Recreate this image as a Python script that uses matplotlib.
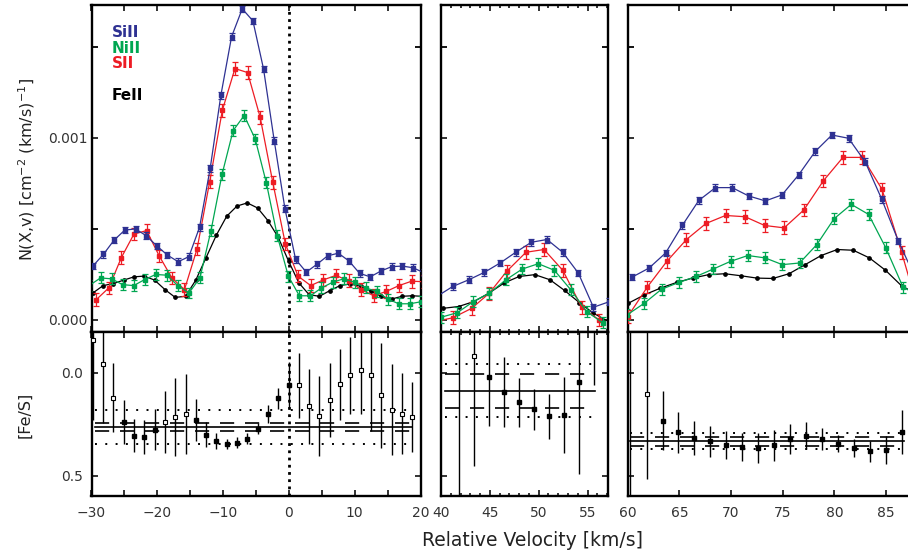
import numpy as np
import matplotlib
matplotlib.use("Agg")
import matplotlib.pyplot as plt
from matplotlib.ticker import MultipleLocator, FixedLocator, FuncFormatter, NullFormatter

plt.rcParams['font.family'] = ['DejaVu Sans']

# ---------------- colours ----------------
C_SI = '#2E3192'
C_NI = '#00A651'
C_S = '#ED1C24'
C_FE = '#000000'

# ---------------- top row data: N(X,v) in units of 1e-3 ----------------
# left window (-30 .. 20 km/s)
SI_V_L = [-29.80, -28.18, -26.56, -24.93, -23.31, -21.69, -20.07, -18.45, -16.82, -15.20,
          -13.58, -11.96, -10.34, -8.71, -7.09, -5.47, -3.85, -2.23, -0.60, 1.02,
          2.64, 4.26, 5.88, 7.51, 9.13, 10.75, 12.37, 13.99, 15.62, 17.24, 18.86, 20.48]
SI_L = [0.296, 0.361, 0.439, 0.494, 0.500, 0.463, 0.407, 0.356, 0.320, 0.348,
        0.509, 0.833, 1.234, 1.556, 1.709, 1.643, 1.378, 0.985, 0.611, 0.333,
        0.263, 0.306, 0.352, 0.367, 0.324, 0.256, 0.237, 0.269, 0.293, 0.296, 0.287, 0.26]

S_V_L = [-29.30, -27.38, -25.46, -23.55, -21.63, -19.71, -17.79, -15.87, -13.96, -12.04,
         -10.12, -8.20, -6.28, -4.37, -2.45, -0.53, 1.39, 3.31, 5.22, 7.14,
         9.06, 10.98, 12.90, 14.81, 16.73, 18.65, 20.57]
S_L = [0.111, 0.176, 0.343, 0.472, 0.491, 0.352, 0.231, 0.167, 0.390, 0.759,
       1.151, 1.381, 1.359, 1.114, 0.756, 0.417, 0.241, 0.189, 0.220, 0.245,
       0.215, 0.167, 0.133, 0.157, 0.189, 0.213, 0.210]

NI_V_L = [-30.31, -28.63, -26.95, -25.27, -23.59, -21.91, -20.24, -18.56, -16.88, -15.20,
          -13.52, -11.84, -10.16, -8.48, -6.80, -5.12, -3.44, -1.77, -0.09, 1.59,
          3.27, 4.95, 6.63, 8.31, 9.99, 11.67, 13.34, 15.02, 16.70, 18.38, 20.06]
NI_L = [0.190, 0.231, 0.226, 0.194, 0.189, 0.222, 0.250, 0.246, 0.189, 0.148,
        0.231, 0.491, 0.800, 1.040, 1.123, 0.994, 0.755, 0.463, 0.241, 0.133,
        0.133, 0.176, 0.207, 0.226, 0.207, 0.176, 0.157, 0.115, 0.089, 0.089, 0.100]

FE_V_L = [-29.80, -28.23, -26.67, -25.10, -23.54, -21.97, -20.41, -18.84, -17.28, -15.71,
          -14.15, -12.58, -11.01, -9.45, -7.88, -6.32, -4.75, -3.19, -1.62, -0.06,
          1.51, 3.07, 4.64, 6.21, 7.77, 9.34, 10.90, 12.47, 14.03, 15.60, 17.17, 18.73, 20.30]
FE_L = [0.148, 0.189, 0.200, 0.219, 0.237, 0.241, 0.219, 0.167, 0.124, 0.130,
        0.219, 0.343, 0.467, 0.570, 0.626, 0.643, 0.615, 0.546, 0.454, 0.324,
        0.204, 0.139, 0.130, 0.161, 0.189, 0.198, 0.185, 0.157, 0.130, 0.115, 0.130, 0.133, 0.130]

# middle window (40 .. 57 km/s)
SI_V_M = [39.60, 41.20, 42.85, 44.45, 46.05, 47.65, 49.25, 50.85, 52.45, 54.05, 55.60, 57.20]
SI_M = [0.130, 0.184, 0.221, 0.262, 0.313, 0.372, 0.427, 0.442, 0.372, 0.258, 0.070, 0.100]
S_V_M = [39.30, 41.20, 43.14, 44.94, 46.72, 48.70, 50.54, 52.46, 54.40, 56.20]
S_M = [-0.010, 0.012, 0.064, 0.147, 0.267, 0.372, 0.387, 0.273, 0.070, 0.000]
NI_V_M = [40.00, 41.67, 43.31, 44.94, 46.65, 48.32, 49.96, 51.60, 53.28, 54.91, 56.55]
NI_M = [0.015, 0.040, 0.101, 0.147, 0.221, 0.280, 0.309, 0.273, 0.166, 0.046, -0.015]
FE_V_M = [40.20, 41.80, 43.35, 44.90, 46.45, 48.00, 49.60, 51.15, 52.65, 54.15, 55.60, 57.20]
FE_M = [0.064, 0.074, 0.101, 0.147, 0.203, 0.239, 0.249, 0.221, 0.162, 0.096, 0.037, -0.010]

# right window (60 .. 88 km/s)
SI_V_R = [60.44, 62.05, 63.66, 65.27, 66.88, 68.49, 70.10, 71.71, 73.32, 74.93,
          76.54, 78.15, 79.76, 81.37, 82.98, 84.59, 86.20, 87.81]
SI_R = [0.236, 0.285, 0.368, 0.519, 0.657, 0.727, 0.727, 0.681, 0.654, 0.687,
        0.797, 0.926, 1.016, 0.998, 0.869, 0.663, 0.433, 0.235]
S_V_R = [59.99, 61.89, 63.78, 65.68, 67.57, 69.46, 71.36, 73.25, 75.14, 77.04,
         78.93, 80.83, 82.72, 84.61, 86.51, 88.40]
S_R = [0.018, 0.181, 0.322, 0.442, 0.530, 0.574, 0.567, 0.519, 0.506, 0.604,
       0.764, 0.893, 0.893, 0.718, 0.372, 0.000]
NI_V_R = [59.93, 61.60, 63.27, 64.94, 66.61, 68.28, 69.95, 71.62, 73.29, 74.96,
          76.63, 78.30, 79.97, 81.64, 83.31, 84.98, 86.65, 88.32]
NI_R = [0.028, 0.092, 0.169, 0.206, 0.239, 0.280, 0.322, 0.354, 0.341, 0.304,
        0.313, 0.414, 0.556, 0.635, 0.580, 0.396, 0.180, 0.130]
FE_V_R = [60.05, 61.61, 63.16, 64.72, 66.27, 67.83, 69.39, 70.94, 72.50, 74.05,
          75.61, 77.17, 78.72, 80.28, 81.83, 83.39, 84.95, 86.50, 88.06]
FE_R = [0.092, 0.138, 0.175, 0.206, 0.230, 0.249, 0.254, 0.243, 0.230, 0.228,
        0.254, 0.304, 0.354, 0.387, 0.383, 0.341, 0.273, 0.188, 0.140]

# 1-sigma errors (units of 1e-3)
SI_ERR = 0.018
S_ERR = 0.035
NI_ERR = 0.030
N_UNIT = 1e-3

# ---------------- bottom row data: [Fe/S] ----------------
FES_V_L = FE_V_L[:32]
FES_L = [-0.159, -0.045, 0.120, 0.240, 0.305, 0.312, 0.276, 0.239, 0.216, 0.200,
         0.231, 0.300, 0.330, 0.346, 0.341, 0.320, 0.271, 0.200, 0.124, 0.060,
         0.060, 0.162, 0.211, 0.133, 0.055, 0.010, -0.015, 0.012, 0.109, 0.179, 0.198, 0.213]
FES_ERR_L = [0.386, 0.290, 0.170, 0.108, 0.080, 0.083, 0.100, 0.150, 0.190, 0.195,
             0.103, 0.060, 0.039, 0.024, 0.027, 0.027, 0.027, 0.045, 0.050, 0.115,
             0.158, 0.183, 0.195, 0.180, 0.172, 0.188, 0.215, 0.272, 0.255, 0.223, 0.198, 0.170]
FES_OPEN_L = [1, 1, 1, 0, 0, 0, 0, 1, 1, 1, 0, 0, 0, 0, 0, 0, 0, 0, 0, 0,
              1, 1, 1, 1, 1, 1, 1, 1, 1, 1, 1, 1]

FES_V_M = [41.84, 43.41, 44.91, 46.45, 47.99, 49.52, 51.06, 52.59, 54.12, 55.66]
FES_M = [-0.45, -0.084, 0.020, 0.094, 0.143, 0.177, 0.211, 0.206, 0.044, -0.35]
FES_ERR_M = [1.10, 0.540, 0.240, 0.170, 0.120, 0.100, 0.110, 0.185, 0.450, 0.410]
FES_OPEN_M = [0, 1, 0, 0, 0, 0, 0, 0, 0, 0]

FES_V_R = [60.21, 61.83, 63.38, 64.89, 66.44, 67.96, 69.51, 71.03, 72.63, 74.15,
           75.70, 77.25, 78.77, 80.32, 81.90, 83.45, 85.00, 86.54]
FES_R = [-0.40, 0.102, 0.232, 0.289, 0.317, 0.333, 0.352, 0.360, 0.365, 0.352,
         0.322, 0.305, 0.322, 0.344, 0.365, 0.382, 0.377, 0.287]
FES_ERR_R = [1.10, 0.414, 0.142, 0.100, 0.083, 0.075, 0.067, 0.069, 0.073, 0.075,
             0.073, 0.066, 0.052, 0.043, 0.045, 0.050, 0.068, 0.108]
FES_OPEN_R = [0, 1, 0, 0, 0, 0, 0, 0, 0, 0, 0, 0, 0, 0, 0, 0, 0, 0]

# mean, 1-sigma (dashed) and dotted limits per window, and velocity span of each
FES_MEAN = [0.263, 0.086, 0.333]
FES_SIG = [0.020, 0.083, 0.021]
FES_LIM = [0.083, 0.130, 0.040]
FES_SPAN = [(-29.5, 18.7), (40.4, 55.8), (60.2, 86.7)]

LEGEND = [('SiII', C_SI), ('NiII', C_NI), ('SII', C_S), ('FeII', C_FE)]

# ---------------- figure / layout ----------------
W, H = 908, 560
fig = plt.figure(figsize=(W / 100, H / 100), dpi=100)
fig.patch.set_facecolor('white')


def add_ax(x0, x1, y0, y1):
    return fig.add_axes([x0 / W, 1 - y1 / H, (x1 - x0) / W, (y1 - y0) / H])


cols = [(91.5, 420.5), (441.0, 607.7), (627.8, 917.0)]
xlims = [(-30, 20), (40, 57.06), (60, 88)]
TOP = (5, 332)
BOT = (332, 496)

top_axes = [add_ax(c[0], c[1], *TOP) for c in cols]
bot_axes = [add_ax(c[0], c[1], *BOT) for c in cols]

top_sets = [
    (SI_V_L, SI_L, S_V_L, S_L, NI_V_L, NI_L, FE_V_L, FE_L),
    (SI_V_M, SI_M, S_V_M, S_M, NI_V_M, NI_M, FE_V_M, FE_M),
    (SI_V_R, SI_R, S_V_R, S_R, NI_V_R, NI_R, FE_V_R, FE_R),
]
bot_sets = [
    (FES_V_L, FES_L, FES_ERR_L, FES_OPEN_L),
    (FES_V_M, FES_M, FES_ERR_M, FES_OPEN_M),
    (FES_V_R, FES_R, FES_ERR_R, FES_OPEN_R),
]


def style_axes(ax, i, bottom_row):
    for sp in ax.spines.values():
        sp.set_linewidth(1.7)
    ax.set_xlim(*xlims[i])
    if i == 0:
        ax.xaxis.set_major_locator(MultipleLocator(5))
    elif i == 1:
        ax.xaxis.set_major_locator(MultipleLocator(5))
        ax.xaxis.set_minor_locator(MultipleLocator(1))
    else:
        ax.xaxis.set_major_locator(MultipleLocator(5))
    ax.tick_params(which='major', direction='in', length=4.5, width=1.3,
                   top=True, right=True, labelsize=10, pad=7, colors='#222222',
                   labelcolor='#333333')
    ax.tick_params(which='minor', direction='in', length=2.5, width=1.1,
                   top=True, right=True)
    if bottom_row:
        if i == 0:
            ax.xaxis.set_major_formatter(FuncFormatter(
                lambda v, p: ('%d' % v).replace('-', '\u2212') if int(round(v)) % 10 == 0 else ''))
        else:
            ax.xaxis.set_major_formatter(FuncFormatter(lambda v, p: '%d' % v))
    else:
        ax.xaxis.set_major_formatter(NullFormatter())


# ---- top row
for i, ax in enumerate(top_axes):
    sv, s, tv, t, nv, n, fv, f = top_sets[i]
    ax.plot(fv, np.array(f) * N_UNIT, '-o', color=C_FE, lw=0.9, ms=2.4, zorder=3)
    ax.errorbar(tv, np.array(t) * N_UNIT, yerr=S_ERR * N_UNIT, fmt='-s', color=C_S,
                lw=0.9, ms=2.6, elinewidth=0.9, capsize=1.9, capthick=0.9, zorder=4)
    ax.errorbar(nv, np.array(n) * N_UNIT, yerr=NI_ERR * N_UNIT, fmt='-s', color=C_NI,
                lw=0.9, ms=2.6, elinewidth=0.9, capsize=1.9, capthick=0.9, zorder=5)
    ax.errorbar(sv, np.array(s) * N_UNIT, yerr=SI_ERR * N_UNIT, fmt='-s', color=C_SI,
                lw=0.9, ms=2.6, elinewidth=0.9, capsize=1.9, capthick=0.9, zorder=6)
    ax.set_ylim(-0.066e-3, 1.73e-3)
    ax.yaxis.set_major_locator(FixedLocator([0.0, 0.001]))
    ax.yaxis.set_minor_locator(FixedLocator([0.0005, 0.0015]))
    style_axes(ax, i, False)
    ax.tick_params(which='minor', axis='y', length=4.5, width=1.3)
    if i == 0:
        ax.yaxis.set_major_formatter(FuncFormatter(lambda v, p: '%.3f' % v))
        ax.tick_params(axis='y', pad=3)
        ax.axvline(0, color='k', lw=2.0, dashes=(1, 1.6), zorder=2)
    else:
        ax.yaxis.set_major_formatter(NullFormatter())

# legend text
for j, (name, col) in enumerate(LEGEND):
    ybase = [37, 53, 68, 100][j]
    top_axes[0].text((112 - 91.5) / 329.0, (332 - ybase) / 327.0, name, color=col,
                     fontsize=11, fontweight='bold', ha='left', va='baseline',
                     transform=top_axes[0].transAxes)

# ---- bottom row
for i, ax in enumerate(bot_axes):
    v, y, e, op = bot_sets[i]
    v = np.array(v); y = np.array(y); e = np.array(e); op = np.array(op, dtype=bool)
    span = FES_SPAN[i]
    m, sg, lim = FES_MEAN[i], FES_SIG[i], FES_LIM[i]
    ax.plot(span, [m, m], color='k', lw=1.2, zorder=2)
    for d in (-sg, sg):
        ax.plot(span, [m + d, m + d], color='k', lw=1.2, dashes=(8.5, 6.5), zorder=2)
    for d in (-lim, lim):
        ax.plot(span, [m + d, m + d], color='k', lw=1.4, dashes=(1, 4.3), zorder=2)
    ax.errorbar(v, y, yerr=e, fmt='none', ecolor='k', elinewidth=1.0, zorder=3)
    ax.plot(v[~op], y[~op], 's', color='k', ms=3.4, zorder=4)
    ax.plot(v[op], y[op], 's', mfc='white', mec='k', mew=0.8, ms=3.4, zorder=4)
    ax.set_ylim(0.6, -0.2)
    ax.yaxis.set_major_locator(FixedLocator([0.0, 0.5]))
    style_axes(ax, i, True)
    if i == 0:
        ax.yaxis.set_major_formatter(FuncFormatter(lambda v, p: '%.1f' % v))
        ax.tick_params(axis='y', pad=6)
        ax.axvline(0, color='k', lw=2.0, dashes=(1, 1.6), zorder=2)
    else:
        ax.yaxis.set_major_formatter(NullFormatter())

# axis labels
fig.text(27 / W, 1 - 169.5 / H, r'N(X,v) [cm$^{-2}$ (km/s)$^{-1}$]', rotation=90,
         ha='center', va='center', fontsize=11.5, color='#222222')
fig.text(25 / W, 1 - 415 / H, '[Fe/S]', rotation=90, ha='center', va='center',
         fontsize=11.5, color='#222222')
fig.text(533 / W, 1 - 545.7 / H, 'Relative Velocity [km/s]', ha='center', va='baseline',
         fontsize=13.5, color='#222222')

fig.savefig('out.png', dpi=100, facecolor='white')
